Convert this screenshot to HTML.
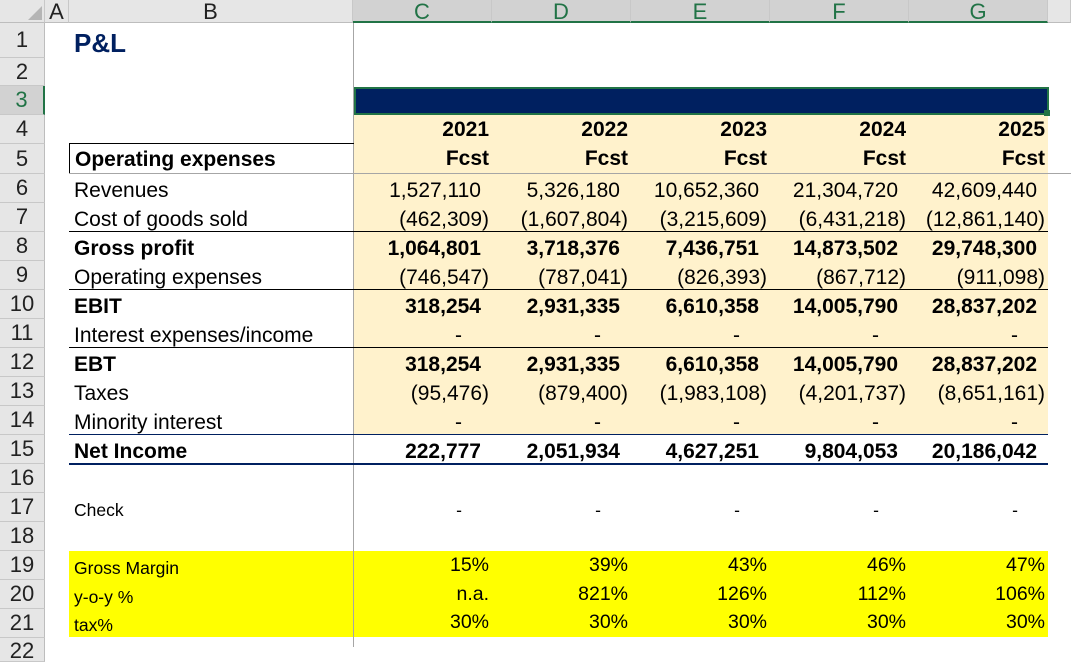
<!DOCTYPE html>
<html><head><meta charset="utf-8"><style>
body{margin:0;width:1071px;height:647px;overflow:hidden;background:#fff;font-family:"Liberation Sans",Arial,sans-serif;position:relative}
div{box-sizing:border-box}
.a{position:absolute}
.hdr{top:0;height:23px;background:#e6e6e6;border-bottom:1px solid #bdbdbd;border-right:1px solid #c8c8c8;font-size:22px;text-align:center;line-height:23px;color:#222}
.sel{background:#d2d2d2;color:#217346;border-bottom:2px solid #217346}
.rn{left:0;width:45px;background:#e6e6e6;border-right:1px solid #bdbdbd;border-bottom:1px solid #c8c8c8;font-size:22px;text-align:center;color:#222;display:flex;align-items:center;justify-content:center}
.row{position:absolute;left:0;width:1071px;font-size:21px;color:#000}
.row>div{position:absolute;top:0;height:100%;display:flex;align-items:center;justify-content:flex-end}
.row>.l{left:74px;width:279px;justify-content:flex-start}
.c{left:353px;width:139px}.d{left:492px;width:139px}.e{left:631px;width:139px}.f{left:770px;width:139px}.g{left:909px;width:139px}
.p{padding-right:3px}.n{padding-right:11px}.z{padding-right:30px}
.b{font-weight:bold}
.s{font-size:17.5px}
.q{font-size:19.5px}
</style></head><body>
<div class="a" style="left:354px;top:115px;width:694px;height:320px;background:#fff2cc"></div>
<div class="a" style="left:69px;top:551px;width:979px;height:86px;background:#ffff00"></div>
<div class="a" style="left:354px;top:87px;width:695px;height:28px;border:2px solid #217346;background:#002060"></div>
<div class="a" style="left:1044px;top:110px;width:6px;height:6px;background:#217346"></div>
<div class="a" style="left:353px;top:23px;width:1px;height:624px;background:#a6a6a6"></div>
<div class="a" style="left:69px;top:143px;width:285px;height:31px;border-top:1px solid #000;border-left:1px solid #000"></div>
<div class="a" style="left:69px;top:173px;width:1002px;height:1px;background:#a6a6a6"></div>
<div class="a" style="left:69px;top:231px;width:979px;height:1px;background:#000"></div>
<div class="a" style="left:69px;top:289px;width:979px;height:1px;background:#000"></div>
<div class="a" style="left:69px;top:347px;width:979px;height:1px;background:#000"></div>
<div class="a" style="left:69px;top:434px;width:979px;height:1px;background:#002060"></div>
<div class="a" style="left:69px;top:463px;width:979px;height:2px;background:#002060"></div>

<div class="a hdr" style="left:0;width:45px"></div>
<div class="a" style="left:28px;top:6px;width:0;height:0;border-left:14px solid transparent;border-bottom:14px solid #b5b5b5"></div>
<div class="a hdr" style="left:45px;width:24px">A</div>
<div class="a hdr" style="left:69px;width:284px">B</div>
<div class="a hdr sel" style="left:353px;width:139px">C</div>
<div class="a hdr sel" style="left:492px;width:139px">D</div>
<div class="a hdr sel" style="left:631px;width:139px">E</div>
<div class="a hdr sel" style="left:770px;width:139px">F</div>
<div class="a hdr sel" style="left:909px;width:139px">G</div>
<div class="a hdr" style="left:1048px;width:23px"></div>

<div class="a rn" style="top:23px;height:35px">1</div>
<div class="a rn" style="top:58px;height:28px">2</div>
<div class="a rn" style="top:86px;height:29px;background:#d2d2d2;color:#217346;border-right:2px solid #217346">3</div>
<div class="a rn" style="top:115px;height:29px">4</div>
<div class="a rn" style="top:144px;height:30px">5</div>
<div class="a rn" style="top:174px;height:29px">6</div>
<div class="a rn" style="top:203px;height:29px">7</div>
<div class="a rn" style="top:232px;height:29px">8</div>
<div class="a rn" style="top:261px;height:29px">9</div>
<div class="a rn" style="top:290px;height:29px">10</div>
<div class="a rn" style="top:319px;height:29px">11</div>
<div class="a rn" style="top:348px;height:29px">12</div>
<div class="a rn" style="top:377px;height:29px">13</div>
<div class="a rn" style="top:406px;height:29px">14</div>
<div class="a rn" style="top:435px;height:29px">15</div>
<div class="a rn" style="top:464px;height:29px">16</div>
<div class="a rn" style="top:493px;height:29px">17</div>
<div class="a rn" style="top:522px;height:29px">18</div>
<div class="a rn" style="top:551px;height:29px">19</div>
<div class="a rn" style="top:580px;height:29px">20</div>
<div class="a rn" style="top:609px;height:29px">21</div>
<div class="a rn" style="top:638px;height:24px;align-items:flex-start">22</div>

<div class="row" style="top:26px;height:34px"><div class="l b" style="font-size:26px;color:#002060">P&amp;L</div></div>
<div class="row b" style="top:115px;height:29px"><div class="c p">2021</div><div class="d p">2022</div><div class="e p">2023</div><div class="f p">2024</div><div class="g p">2025</div></div>
<div class="row b" style="top:144px;height:29px"><div class="l" style="left:75px;padding-top:2px">Operating expenses</div><div class="c p">Fcst</div><div class="d p">Fcst</div><div class="e p">Fcst</div><div class="f p">Fcst</div><div class="g p">Fcst</div></div>
<div class="row" style="top:176px;height:29px"><div class="l">Revenues</div><div class="c n">1,527,110</div><div class="d n">5,326,180</div><div class="e n">10,652,360</div><div class="f n">21,304,720</div><div class="g n">42,609,440</div></div>
<div class="row" style="top:205px;height:29px"><div class="l">Cost of goods sold</div><div class="c p">(462,309)</div><div class="d p">(1,607,804)</div><div class="e p">(3,215,609)</div><div class="f p">(6,431,218)</div><div class="g p">(12,861,140)</div></div>
<div class="row b" style="top:234px;height:29px"><div class="l">Gross profit</div><div class="c n">1,064,801</div><div class="d n">3,718,376</div><div class="e n">7,436,751</div><div class="f n">14,873,502</div><div class="g n">29,748,300</div></div>
<div class="row" style="top:263px;height:29px"><div class="l">Operating expenses</div><div class="c p">(746,547)</div><div class="d p">(787,041)</div><div class="e p">(826,393)</div><div class="f p">(867,712)</div><div class="g p">(911,098)</div></div>
<div class="row b" style="top:292px;height:29px"><div class="l">EBIT</div><div class="c n">318,254</div><div class="d n">2,931,335</div><div class="e n">6,610,358</div><div class="f n">14,005,790</div><div class="g n">28,837,202</div></div>
<div class="row" style="top:321px;height:29px"><div class="l">Interest expenses/income</div><div class="c z">-</div><div class="d z">-</div><div class="e z">-</div><div class="f z">-</div><div class="g z">-</div></div>
<div class="row b" style="top:350px;height:29px"><div class="l">EBT</div><div class="c n">318,254</div><div class="d n">2,931,335</div><div class="e n">6,610,358</div><div class="f n">14,005,790</div><div class="g n">28,837,202</div></div>
<div class="row" style="top:379px;height:29px"><div class="l">Taxes</div><div class="c p">(95,476)</div><div class="d p">(879,400)</div><div class="e p">(1,983,108)</div><div class="f p">(4,201,737)</div><div class="g p">(8,651,161)</div></div>
<div class="row" style="top:408px;height:29px"><div class="l">Minority interest</div><div class="c z">-</div><div class="d z">-</div><div class="e z">-</div><div class="f z">-</div><div class="g z">-</div></div>
<div class="row b" style="top:437px;height:29px"><div class="l">Net Income</div><div class="c n">222,777</div><div class="d n">2,051,934</div><div class="e n">4,627,251</div><div class="f n">9,804,053</div><div class="g n">20,186,042</div></div>
<div class="row s" style="top:496px;height:29px"><div class="l">Check</div><div class="c z">-</div><div class="d z">-</div><div class="e z">-</div><div class="f z">-</div><div class="g z">-</div></div>
<div class="row s" style="top:551px;height:29px"><div class="l" style="padding-top:6px">Gross Margin</div><div class="c p q">15%</div><div class="d p q">39%</div><div class="e p q">43%</div><div class="f p q">46%</div><div class="g p q">47%</div></div>
<div class="row s" style="top:580px;height:29px"><div class="l" style="padding-top:6px">y-o-y %</div><div class="c p q">n.a.</div><div class="d p q">821%</div><div class="e p q">126%</div><div class="f p q">112%</div><div class="g p q">106%</div></div>
<div class="row s" style="top:608px;height:29px"><div class="l" style="padding-top:6px">tax%</div><div class="c p q">30%</div><div class="d p q">30%</div><div class="e p q">30%</div><div class="f p q">30%</div><div class="g p q">30%</div></div>
</body></html>
